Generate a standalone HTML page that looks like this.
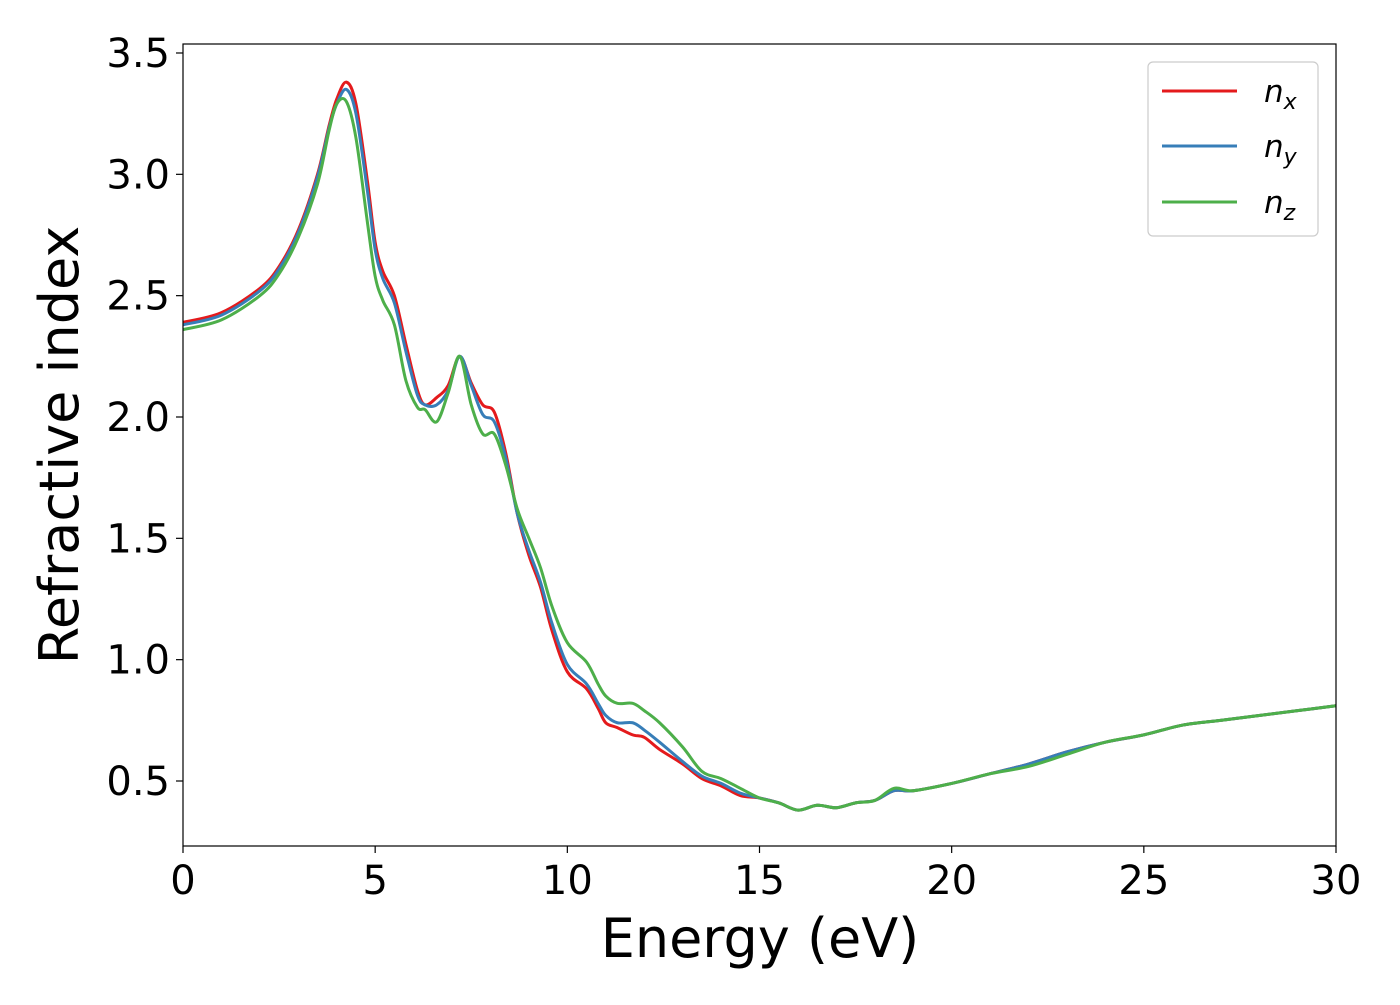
<!DOCTYPE html>
<html><head><meta charset="utf-8"><style>
body{margin:0;background:#fff}
svg text{font-family:"DejaVu Sans","Liberation Sans",sans-serif}
</style></head><body>
<svg id="chart" width="1400" height="1000" xmlns="http://www.w3.org/2000/svg">
<rect width="1400" height="1000" fill="#fff"/>
<g id="plot"></g>
<rect x="183" y="44" width="1153" height="802" fill="none" stroke="#000" stroke-width="1.2"/>
<g id="axes"></g>
<text x="760" y="957" font-size="54" text-anchor="middle">Energy (eV)</text>
<text transform="translate(78,445) rotate(-90)" font-size="54" text-anchor="middle">Refractive index</text>
<g>
<rect x="1148" y="62" width="170" height="174" rx="5" fill="#fff" stroke="#ccc" stroke-width="1.2"/>
<g><line x1="1162" y1="91" x2="1237" y2="91" stroke="#e41a1c" stroke-width="3"/><text x="1264" y="102" font-size="31" font-style="italic">n<tspan font-size="22" dy="7">x</tspan></text></g>
<g><line x1="1162" y1="146" x2="1237" y2="146" stroke="#377eb8" stroke-width="3"/><text x="1264" y="157" font-size="31" font-style="italic">n<tspan font-size="22" dy="7">y</tspan></text></g>
<g><line x1="1162" y1="202" x2="1237" y2="202" stroke="#4daf4a" stroke-width="3"/><text x="1264" y="213" font-size="31" font-style="italic">n<tspan font-size="22" dy="7">z</tspan></text></g>
</g>
</svg>
<script>
const energy=[0,1,2,2.5,3,3.5,3.8,4.0,4.25,4.5,4.8,5.0,5.2,5.5,5.8,6.1,6.3,6.6,6.9,7.2,7.5,7.8,8.1,8.4,8.7,9.0,9.3,9.6,10,10.5,10.8,11,11.3,11.7,12,12.4,13,13.5,14,14.5,15,15.5,16,16.5,17,17.5,18,18.5,19,20,21,22,23,24,25,26,27,28,29,30];
const nx=[2.39,2.43,2.53,2.62,2.77,3.0,3.2,3.31,3.38,3.29,2.97,2.72,2.6,2.5,2.3,2.11,2.05,2.08,2.13,2.25,2.14,2.05,2.02,1.85,1.6,1.43,1.3,1.12,0.95,0.88,0.80,0.74,0.72,0.69,0.68,0.63,0.57,0.51,0.48,0.44,0.43,0.41,0.38,0.40,0.39,0.41,0.42,0.46,0.46,0.49,0.53,0.57,0.62,0.66,0.69,0.73,0.75,0.77,0.79,0.81];
const ny=[2.38,2.42,2.52,2.61,2.76,2.99,3.19,3.29,3.35,3.25,2.93,2.69,2.57,2.47,2.27,2.09,2.05,2.05,2.11,2.25,2.13,2.01,1.98,1.83,1.6,1.45,1.32,1.15,0.98,0.90,0.82,0.77,0.74,0.74,0.71,0.66,0.58,0.52,0.49,0.45,0.43,0.41,0.38,0.40,0.39,0.41,0.42,0.46,0.46,0.49,0.53,0.57,0.62,0.66,0.69,0.73,0.75,0.77,0.79,0.81];
const nz=[2.36,2.40,2.50,2.59,2.74,2.96,3.18,3.29,3.30,3.15,2.80,2.58,2.48,2.38,2.15,2.04,2.03,1.98,2.10,2.25,2.05,1.93,1.93,1.80,1.62,1.50,1.38,1.22,1.07,0.99,0.90,0.85,0.82,0.82,0.79,0.74,0.64,0.54,0.51,0.47,0.43,0.41,0.38,0.40,0.39,0.41,0.42,0.47,0.46,0.49,0.53,0.56,0.61,0.66,0.69,0.73,0.75,0.77,0.79,0.81];
const xTicks=[0,5,10,15,20,25,30];
const yTicks=[0.5,1.0,1.5,2.0,2.5,3.0,3.5];
const yTickLabels=["0.5","1.0","1.5","2.0","2.5","3.0","3.5"];
const NS="http://www.w3.org/2000/svg";
const X=e=>183+e*(1153/30);
const Y=v=>781-(v-0.5)*242.67;
const axes=document.getElementById('axes'),plot=document.getElementById('plot');
xTicks.forEach(t=>{
 const l=document.createElementNS(NS,'line');l.setAttribute('x1',X(t));l.setAttribute('x2',X(t));l.setAttribute('y1',846);l.setAttribute('y2',853);l.setAttribute('stroke','#000');l.setAttribute('stroke-width','1.2');
 
 
 axes.appendChild(l);
 const tx=document.createElementNS(NS,'text');tx.setAttribute('x',X(t));tx.setAttribute('y',894);tx.setAttribute('font-size','40');tx.setAttribute('text-anchor','middle');tx.textContent=t;
 
 
 axes.appendChild(tx);
});
yTicks.forEach((t,i)=>{
 const l=document.createElementNS(NS,'line');l.setAttribute('x1',176);l.setAttribute('x2',183);l.setAttribute('y1',Y(t));l.setAttribute('y2',Y(t));l.setAttribute('stroke','#000');l.setAttribute('stroke-width','1.2');
 
 
 axes.appendChild(l);
 const tx=document.createElementNS(NS,'text');tx.setAttribute('x',170);tx.setAttribute('y',Y(t)+14);tx.setAttribute('font-size','40');tx.setAttribute('text-anchor','end');tx.textContent=yTickLabels[i];
 
 
 axes.appendChild(tx);
});
function pathFor(vals){
 const p=energy.map((e,i)=>[X(e),Y(vals[i])]);
 let d='M'+p[0][0]+','+p[0][1];
 for(let i=0;i<p.length-1;i++){
  const p0=p[Math.max(0,i-1)],p1=p[i],p2=p[i+1],p3=p[Math.min(p.length-1,i+2)];
  const c1=[p1[0]+(p2[0]-p0[0])/6,p1[1]+(p2[1]-p0[1])/6];
  const c2=[p2[0]-(p3[0]-p1[0])/6,p2[1]-(p3[1]-p1[1])/6];
  d+=' C'+c1+' '+c2+' '+p2;
 }
 return d;
}
[[nx,'#e41a1c','nx'],[ny,'#377eb8','ny'],[nz,'#4daf4a','nz']].forEach(s=>{
 const pa=document.createElementNS(NS,'path');pa.setAttribute('d',pathFor(s[0]));pa.setAttribute('fill','none');pa.setAttribute('stroke',s[1]);pa.setAttribute('stroke-width','3');
 
 
 plot.appendChild(pa);
});
</script>
</body></html>
